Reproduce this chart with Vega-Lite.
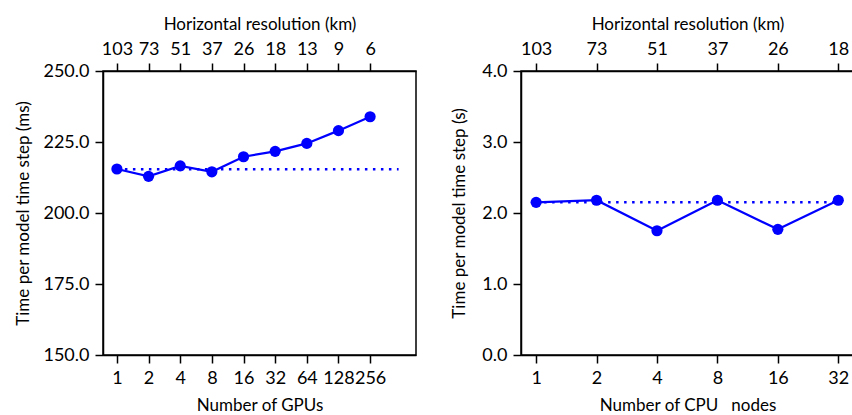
{
  "$schema": "https://vega.github.io/schema/vega-lite/v6.json",
  "padding": {"left": 14, "top": 14, "right": 1, "bottom": 0},
  "background": "white",
  "spacing": 33,
  "config": {
    "font": "Lato",
    "view": {"stroke": "black", "strokeWidth": 1.5},
    "axis": {
      "grid": false,
      "domainColor": "black",
      "domainWidth": 1.5,
      "tickColor": "black",
      "tickWidth": 1.5,
      "tickSize": 8,
      "labelColor": "black",
      "titleColor": "black",
      "labelFont": "Lato",
      "titleFont": "Lato",
      "labelFontSize": 18,
      "titleFontSize": 17,
      "titleFontWeight": "normal",
      "labelOverlap": false,
      "labelBound": false,
      "labelFlush": false
    }
  },
  "datasets": {
    "gpu": [
      {"idx": 0, "gpus": 1, "res": 103, "time": 215.5},
      {"idx": 1, "gpus": 2, "res": 73, "time": 212.9},
      {"idx": 2, "gpus": 4, "res": 51, "time": 216.6},
      {"idx": 3, "gpus": 8, "res": 37, "time": 214.5},
      {"idx": 4, "gpus": 16, "res": 26, "time": 219.8},
      {"idx": 5, "gpus": 32, "res": 18, "time": 221.7},
      {"idx": 6, "gpus": 64, "res": 13, "time": 224.5},
      {"idx": 7, "gpus": 128, "res": 9, "time": 229.0},
      {"idx": 8, "gpus": 256, "res": 6, "time": 233.9}
    ],
    "gpuRef": [
      {"idx": 0, "time": 215.4},
      {"idx": 8.9, "time": 215.4}
    ],
    "cpu": [
      {"idx": 0, "nodes": 1, "res": 103, "time": 2.15},
      {"idx": 1, "nodes": 2, "res": 73, "time": 2.18},
      {"idx": 2, "nodes": 4, "res": 51, "time": 1.75},
      {"idx": 3, "nodes": 8, "res": 37, "time": 2.18},
      {"idx": 4, "nodes": 16, "res": 26, "time": 1.77},
      {"idx": 5, "nodes": 32, "res": 18, "time": 2.18}
    ],
    "cpuRef": [
      {"idx": 0, "time": 2.15},
      {"idx": 5, "time": 2.15}
    ]
  },
  "hconcat": [
    {
      "width": 313,
      "height": 284,
      "resolve": {"axis": {"x": "independent"}},
      "layer": [
        {
          "data": {"name": "gpuRef"},
          "mark": {"type": "line", "color": "#0000ff", "strokeWidth": 2.5, "strokeDash": [2.5, 5.5]},
          "encoding": {
            "x": {
              "field": "idx", "type": "quantitative",
              "scale": {"domain": [-0.44, 9.45], "nice": false, "zero": false},
              "axis": {
                "orient": "top", "title": "Horizontal resolution (km)",
                "values": [0, 1, 2, 3, 4, 5, 6, 7, 8],
                "labelExpr": "[103,73,51,37,26,18,13,9,6][datum.value]",
                "labelPadding": 5, "titlePadding": 7
              }
            },
            "y": {
              "field": "time", "type": "quantitative",
              "scale": {"domain": [150, 250], "nice": false, "zero": false},
              "axis": {
                "title": "Time per model time step (ms)",
                "values": [150, 175, 200, 225, 250], "format": ".1f",
                "labelPadding": 6, "titlePadding": 10
              }
            }
          }
        },
        {
          "data": {"name": "gpu"},
          "mark": {"type": "line", "color": "#0000ff", "strokeWidth": 2.2, "point": {"filled": true, "size": 125, "color": "#0000ff", "opacity": 1}},
          "encoding": {
            "x": {
              "field": "idx", "type": "quantitative",
              "axis": {
                "orient": "bottom", "title": "Number of GPUs",
                "values": [0, 1, 2, 3, 4, 5, 6, 7, 8],
                "labelExpr": "pow(2, datum.value)",
                "labelPadding": 6, "titlePadding": 10
              }
            },
            "y": {"field": "time", "type": "quantitative"}
          }
        }
      ]
    },
    {
      "width": 333,
      "height": 284,
      "resolve": {"axis": {"x": "independent"}},
      "layer": [
        {
          "data": {"name": "cpuRef"},
          "mark": {"type": "line", "color": "#0000ff", "strokeWidth": 2.5, "strokeDash": [2.5, 5.5]},
          "encoding": {
            "x": {
              "field": "idx", "type": "quantitative",
              "scale": {"domain": [-0.25, 5.26], "nice": false, "zero": false},
              "axis": {
                "orient": "top", "title": "Horizontal resolution (km)",
                "values": [0, 1, 2, 3, 4, 5],
                "labelExpr": "[103,73,51,37,26,18][datum.value]",
                "labelPadding": 5, "titlePadding": 7
              }
            },
            "y": {
              "field": "time", "type": "quantitative",
              "scale": {"domain": [0, 4], "nice": false},
              "axis": {
                "title": "Time per model time step (s)",
                "values": [0, 1, 2, 3, 4], "format": ".1f",
                "labelPadding": 6, "titlePadding": 13
              }
            }
          }
        },
        {
          "data": {"name": "cpu"},
          "mark": {"type": "line", "color": "#0000ff", "strokeWidth": 2.2, "point": {"filled": true, "size": 125, "color": "#0000ff", "opacity": 1}},
          "encoding": {
            "x": {
              "field": "idx", "type": "quantitative",
              "axis": {
                "orient": "bottom", "title": "Number of CPU\u00a0\u00a0 nodes",
                "values": [0, 1, 2, 3, 4, 5],
                "labelExpr": "pow(2, datum.value)",
                "labelPadding": 6, "titlePadding": 10
              }
            },
            "y": {"field": "time", "type": "quantitative"}
          }
        }
      ]
    }
  ]
}
